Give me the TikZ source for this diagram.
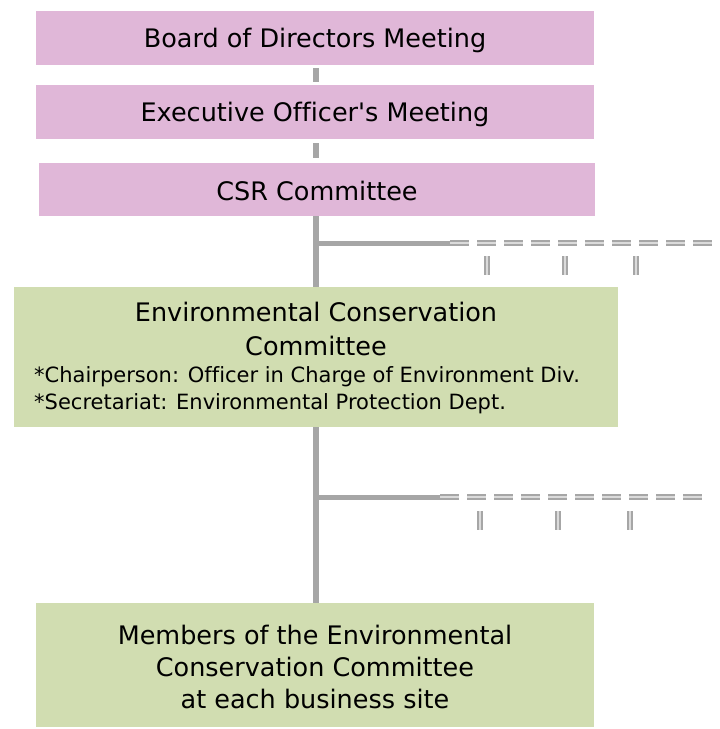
\documentclass[tikz,border=0pt]{standalone}
\usepackage{fontspec}
\setmainfont{DejaVu Sans}[Ligatures={TeXOff,NoCommon}]
\definecolor{pinkbox}{HTML}{E0B7D8}
\definecolor{greenbox}{HTML}{D1DDB1}
\definecolor{linegray}{HTML}{A6A6A6}
\begin{document}
\begin{tikzpicture}[x=1pt,y=1pt,
  pbox/.style={fill=pinkbox,draw=none,minimum height=54pt,inner sep=0pt},
  gbox/.style={fill=greenbox,draw=none,inner sep=0pt},
  big/.style={font=\fontsize{25.5}{29}\selectfont,inner sep=0pt},
  small/.style={font=\fontsize{21}{25}\selectfont,inner sep=0pt},
  conn/.style={draw=linegray,line width=6pt},
  dconn/.style={draw=linegray,double=linegray!40,double distance=2pt,line width=2.2pt,dash pattern=on 19pt off 8pt}]
\useasboundingbox (0,0) rectangle (720,-729);
\node[pbox,minimum width=558pt] (board) at (315,-38) {};
\node[big] (boardt) at (315,-40.5) {Board of Directors Meeting};
\node[pbox,minimum width=558pt] (exec) at (315,-112) {};
\node[big] (exect) at (315,-114.5) {Executive Officer's Meeting};
\node[pbox,minimum width=556pt,minimum height=53pt] (csr) at (317,-189.5) {};
\node[big] (csrt) at (317,-191) {CSR Committee};
\node[gbox,minimum width=604pt,minimum height=140pt] (env) at (316,-357) {};
\node[big] (envt1) at (316,-312) {Environmental Conservation};
\node[big] (envt2) at (316,-346) {Committee};
\node[small,anchor=west] (envt3) at (34,-377) {*Chairperson: Officer in Charge of Environment Div.};
\node[small,anchor=west] (envt4) at (34,-404) {*Secretariat: Environmental Protection Dept.};
\node[gbox,minimum width=558pt,minimum height=124pt] (mem) at (315,-665) {};
\node[big] (memt1) at (315,-635) {Members of the Environmental};
\node[big] (memt2) at (315,-667) {Conservation Committee};
\node[big] (memt3) at (315,-699) {at each business site};
\coordinate (sp) at (316,0);
% stubs
\draw[conn,shorten <=3pt,shorten >=3pt] (board.south -| sp) -- (exec.north -| sp);
\draw[conn,shorten <=4pt,shorten >=5pt] (exec.south -| sp) -- (csr.north -| sp);
\draw[conn] (csr.south -| sp) -- (env.north -| sp);
\draw[conn] (env.south -| sp) -- (mem.north -| sp);
% branch 1
\coordinate (b1) at (316,-243);
\coordinate (b1e) at (450,-243);
\coordinate (b1f) at (715,-243);
\draw[draw=linegray,line width=5pt] (b1) -- (b1e);
\draw[dconn] (b1e) -- (b1f);
\foreach \x/\n in {487/a,565/b,636/c}{
  \coordinate (s1\n t) at (\x,-256);
  \coordinate (s1\n b) at (\x,-276);
  \draw[dconn] (s1\n t) -- (s1\n b);
}
% branch 2
\coordinate (b2) at (316,-497);
\coordinate (b2e) at (440,-497);
\coordinate (b2f) at (705,-497);
\draw[draw=linegray,line width=5pt] (b2) -- (b2e);
\draw[dconn] (b2e) -- (b2f);
\foreach \x/\n in {480/a,558/b,630/c}{
  \coordinate (s2\n t) at (\x,-511);
  \coordinate (s2\n b) at (\x,-531);
  \draw[dconn] (s2\n t) -- (s2\n b);
}
\end{tikzpicture}
\end{document}
